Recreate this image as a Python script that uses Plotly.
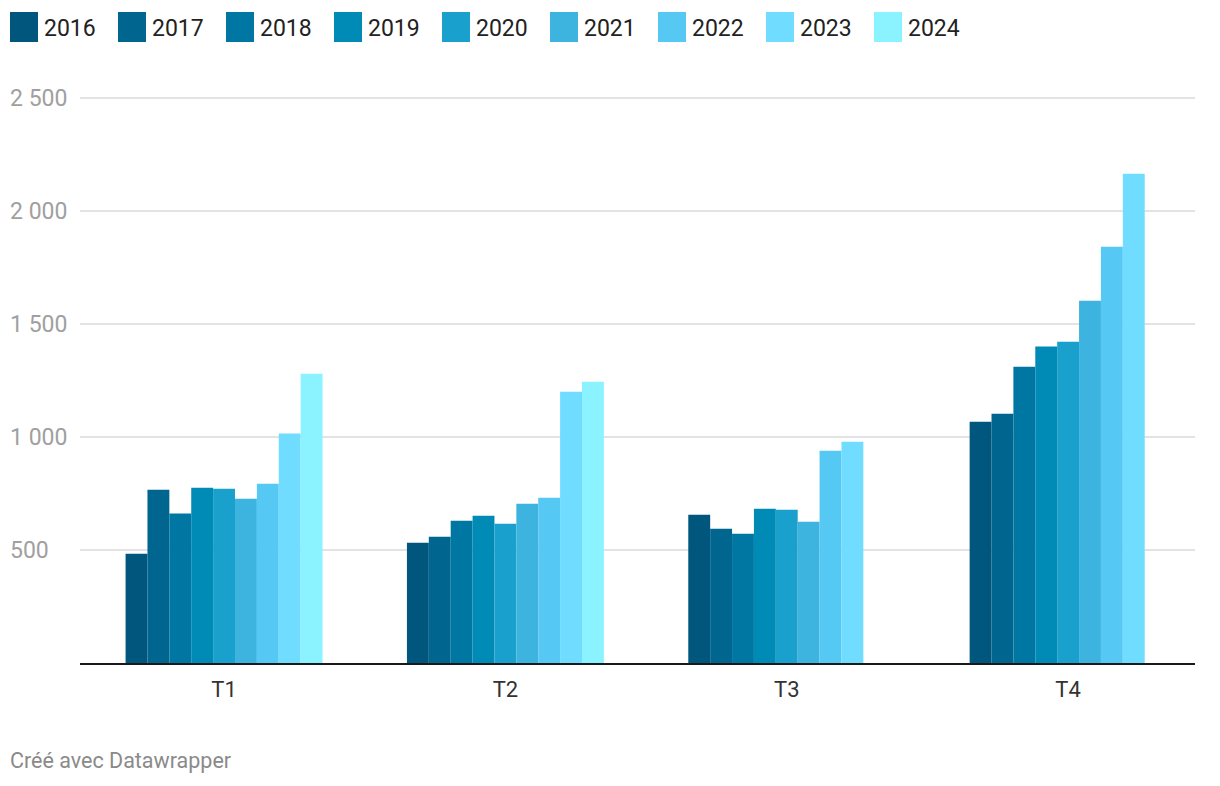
import plotly.graph_objects as go

quarters = ["T1", "T2", "T3", "T4"]
years = ["2016", "2017", "2018", "2019", "2020", "2021", "2022", "2023", "2024"]
v2016 = [483, 532, 656, 1068]
v2017 = [767, 559, 594, 1103]
v2018 = [661, 630, 572, 1311]
v2019 = [776, 652, 683, 1400]
v2020 = [771, 616, 678, 1422]
v2021 = [727, 705, 625, 1603]
v2022 = [793, 731, 939, 1842]
v2023 = [1015, 1200, 979, 2165]
v2024 = [1280, 1245, None, None]
series = [v2016, v2017, v2018, v2019, v2020, v2021, v2022, v2023, v2024]
colors = ["#00567c", "#00658f", "#0077a2", "#008bb7", "#1aa0cc",
          "#3db4e0", "#56c8f4", "#70dcff", "#8bf3ff"]
y_ticks = [500, 1000, 1500, 2000, 2500]
y_tick_labels = ["500", "1 000", "1 500", "2 000", "2 500"]

W, H = 1220, 786
L, R, T, B = 80, 25, 96, 123
PW, PH = W - L - R, H - T - B
Y_MAX = 2509


def px_x(p):
    return (p - L) / PW


def px_y(p):
    return (H - B - p) / PH


fig = go.Figure()
for yr, vals, c in zip(years, series, colors):
    fig.add_trace(go.Bar(x=quarters, y=vals, name=yr, marker_color=c,
                         marker_line_width=0, showlegend=False))

shapes = []
annotations = []
# custom legend
for i, (yr, c) in enumerate(zip(years, colors)):
    x0 = 10 + 108 * i
    shapes.append(dict(type="rect", xref="paper", yref="paper",
                       x0=px_x(x0), x1=px_x(x0 + 28), y0=px_y(42), y1=px_y(12),
                       fillcolor=c, line_width=0))
    annotations.append(dict(text=yr, xref="paper", yref="paper",
                            x=px_x(x0 + 32), y=px_y(28), xanchor="left",
                            yanchor="middle", showarrow=False,
                            font=dict(family="Roboto", size=23, color="#222222")))

# y tick labels, left aligned
for v, lab in zip(y_ticks, y_tick_labels):
    annotations.append(dict(text=lab, xref="paper", yref="y", x=px_x(8), y=v,
                            xanchor="left", yanchor="middle", showarrow=False,
                            font=dict(family="Roboto", size=23, color="#a0a0a0")))

annotations.append(dict(text="Créé avec Datawrapper", xref="paper", yref="paper",
                        x=px_x(8), y=px_y(760), xanchor="left", yanchor="middle",
                        showarrow=False,
                        font=dict(family="Roboto", size=21.5, color="#8a8a8a")))

fig.update_layout(
    width=W, height=H,
    margin=dict(l=L, r=R, t=T, b=B, pad=0),
    paper_bgcolor="white", plot_bgcolor="white",
    barmode="group", bargap=0.30, bargroupgap=0,
    font=dict(family="Roboto", size=22, color="#333333"),
    shapes=shapes, annotations=annotations,
    xaxis=dict(range=[-0.512, 3.451], showgrid=False, showline=True,
               linecolor="#1a1a1a", linewidth=2, ticks="outside", ticklen=6,
               tickcolor="rgba(0,0,0,0)",
               tickfont=dict(family="Roboto", size=22, color="#333333")),
    yaxis=dict(range=[0, Y_MAX], tickvals=y_ticks, showticklabels=False,
               showgrid=True, gridcolor="#e3e3e3", gridwidth=1.5,
               zeroline=False, showline=False, fixedrange=True),
)

fig.write_html("out.html")
